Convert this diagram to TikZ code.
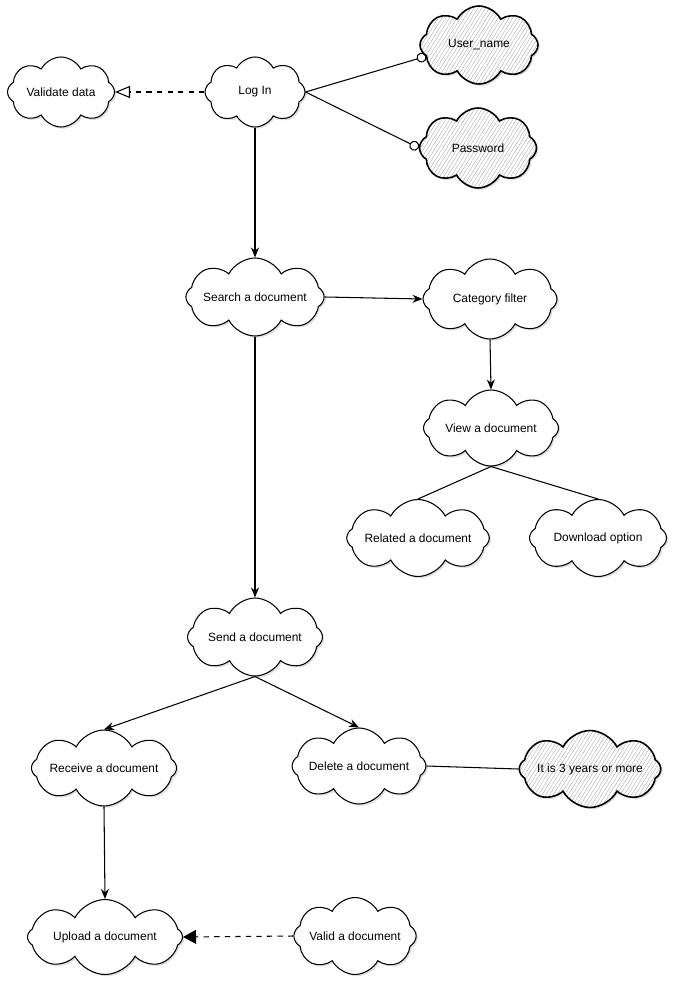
\documentclass[tikz,border=0pt]{standalone}
\usepackage{fontspec}
\setmainfont{Liberation Sans}
\usetikzlibrary{shapes.symbols,arrows.meta,patterns.meta,shadows}
\newdimen\pxl
\pxl=0.02cm
\begin{document}
\begin{tikzpicture}[x=\pxl,y=-\pxl,line width=0.6pt,
  usecase/.style={cloud,cloud puffs=8,cloud puff arc=125,cloud ignores aspect,draw,inner sep=0pt,
    font=\fontsize{6.8}{8}\selectfont,
    drop shadow={opacity=0.25,shadow xshift=1pt,shadow yshift=-1pt}},
  plain/.style={usecase,fill=white},
  attrib/.style={usecase,line width=0.9pt,preaction={fill=white},
    pattern={Lines[angle=58,distance=1.8pt,line width=0.2pt]},pattern color=gray!70},
  flow/.style={-{Stealth[length=2mm,width=1.6mm]}},
  attach/.style={-{Circle[open,length=2mm]}}]
\useasboundingbox (0,0) rectangle (675,982);

\node[plain,minimum width=107\pxl,minimum height=70\pxl] (validate) at (61,92) {Validate data};
\node[plain,minimum width=100\pxl,minimum height=70\pxl] (login) at (255,92) {Log In};
\node[attrib,minimum width=118\pxl,minimum height=78\pxl] (username) at (479,45) {User\_name};
\node[attrib,minimum width=117\pxl,minimum height=80\pxl] (password) at (478,148) {Password};
\node[plain,minimum width=135\pxl,minimum height=78\pxl] (search) at (255,297) {Search a document};
\node[plain,minimum width=134\pxl,minimum height=80\pxl] (category) at (490,299) {Category filter};
\node[plain,minimum width=135\pxl,minimum height=76\pxl] (view) at (491,428) {View a document};
\node[plain,minimum width=136\pxl,minimum height=77\pxl] (related) at (418,538) {Related a document};
\node[plain,minimum width=137\pxl,minimum height=77\pxl] (download) at (598,538) {Download option};
\node[plain,minimum width=135\pxl,minimum height=78\pxl] (send) at (255,637) {Send a document};
\node[plain,minimum width=136\pxl,minimum height=76\pxl] (receive) at (104,768) {Receive a document};
\node[plain,minimum width=118\pxl,minimum height=76\pxl] (delete) at (359,766) {Delete a document};
\node[attrib,minimum width=139\pxl,minimum height=77\pxl] (years) at (590,769) {It is 3 years or more};
\node[plain,minimum width=155\pxl,minimum height=75\pxl] (upload) at (105,937) {Upload a document};
\node[plain,minimum width=110\pxl,minimum height=77\pxl] (valid) at (355,936) {Valid a document};

\draw[dashed,-{Triangle[open,length=3mm,width=2.4mm]}] (login.west) -- (validate.east);
\draw[attach] (login.east) -- (username.192);
\draw[attach] (login.east) -- (password.west);
\draw[flow] (login.south) -- (search.north);
\draw[flow] (search.east) -- (category.west);
\draw[flow] (category.south) -- (view.north);
\draw (view.south) -- (related.north);
\draw (view.south) -- (download.north);
\draw[flow] (search.south) -- (send.north);
\draw[flow] (send.south) -- (receive.north);
\draw[flow] (send.south) -- (delete.north);
\draw (delete.east) -- (years.west);
\draw[flow] (receive.south) -- (upload.north);
\draw[dashed,-{Triangle[length=2.6mm,width=2.8mm]}] (valid.west) -- (upload.east);
\end{tikzpicture}
\end{document}
